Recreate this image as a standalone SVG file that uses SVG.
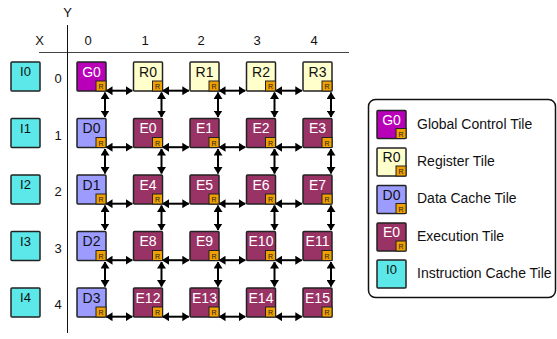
<svg xmlns="http://www.w3.org/2000/svg" width="557" height="339" viewBox="0 0 557 339">
<style>
text{font-family:"Liberation Sans",Arial,sans-serif}
.t{stroke:#222;stroke-width:1.5}
.g{fill:#b800b8}.r{fill:#ffffcc}.d{fill:#9c9cff}.e{fill:#993366}.i{fill:#5ce8e8}
.lbl{font-size:14px;text-anchor:middle}
.lw{fill:#fff}.lk{fill:#111}
.rt{fill:#f0a000;stroke:#222;stroke-width:1}
.rl{font-size:7px;text-anchor:middle;fill:#222}
.ax{font-size:13px;fill:#111;text-anchor:middle}
.lg{font-size:14px;fill:#111}
.ar{stroke:#000;stroke-width:2;fill:none;marker-start:url(#ah);marker-end:url(#ah)}
</style>
<defs>
<marker id="ah" viewBox="0 0 7 9" refX="6.5" refY="4.5" markerWidth="7" markerHeight="9" markerUnits="userSpaceOnUse" orient="auto-start-reverse"><path d="M0,0L7,4.5L0,9z" fill="#000"/></marker>
<g id="router"><rect class="rt" x="0" y="0" width="10" height="10"/><text class="rl" x="5" y="8">R</text></g>
</defs>
<g id="axes">
<line x1="39" y1="52.5" x2="349" y2="52.5" stroke="#444" stroke-width="1"/>
<line x1="67.5" y1="25" x2="67.5" y2="333" stroke="#111" stroke-width="1"/>
<text class="ax" x="67.5" y="17">Y</text>
<text class="ax" x="39.5" y="44.5">X</text>
<text class="ax" x="88" y="44.5">0</text>
<text class="ax" x="145" y="44.5">1</text>
<text class="ax" x="201" y="44.5">2</text>
<text class="ax" x="257" y="44.5">3</text>
<text class="ax" x="314" y="44.5">4</text>
<text class="ax" x="58" y="83">0</text>
<text class="ax" x="58" y="139.5">1</text>
<text class="ax" x="58" y="196">2</text>
<text class="ax" x="58" y="252.5">3</text>
<text class="ax" x="58" y="309">4</text>
</g>
<g id="connectors">
<line class="ar" x1="106" y1="90.7" x2="132.3" y2="90.7"/><line class="ar" x1="162.5" y1="90.7" x2="188.8" y2="90.7"/><line class="ar" x1="219" y1="90.7" x2="245.3" y2="90.7"/><line class="ar" x1="275.5" y1="90.7" x2="301.8" y2="90.7"/>
<line class="ar" x1="106" y1="147.2" x2="132.3" y2="147.2"/><line class="ar" x1="162.5" y1="147.2" x2="188.8" y2="147.2"/><line class="ar" x1="219" y1="147.2" x2="245.3" y2="147.2"/><line class="ar" x1="275.5" y1="147.2" x2="301.8" y2="147.2"/>
<line class="ar" x1="106" y1="203.7" x2="132.3" y2="203.7"/><line class="ar" x1="162.5" y1="203.7" x2="188.8" y2="203.7"/><line class="ar" x1="219" y1="203.7" x2="245.3" y2="203.7"/><line class="ar" x1="275.5" y1="203.7" x2="301.8" y2="203.7"/>
<line class="ar" x1="106" y1="260.2" x2="132.3" y2="260.2"/><line class="ar" x1="162.5" y1="260.2" x2="188.8" y2="260.2"/><line class="ar" x1="219" y1="260.2" x2="245.3" y2="260.2"/><line class="ar" x1="275.5" y1="260.2" x2="301.8" y2="260.2"/>
<line class="ar" x1="106" y1="316.7" x2="132.3" y2="316.7"/><line class="ar" x1="162.5" y1="316.7" x2="188.8" y2="316.7"/><line class="ar" x1="219" y1="316.7" x2="245.3" y2="316.7"/><line class="ar" x1="275.5" y1="316.7" x2="301.8" y2="316.7"/>
<line class="ar" x1="105" y1="92.5" x2="105" y2="117"/><line class="ar" x1="105" y1="149" x2="105" y2="173.5"/><line class="ar" x1="105" y1="205.5" x2="105" y2="230"/><line class="ar" x1="105" y1="262" x2="105" y2="286.5"/>
<line class="ar" x1="161.5" y1="92.5" x2="161.5" y2="117"/><line class="ar" x1="161.5" y1="149" x2="161.5" y2="173.5"/><line class="ar" x1="161.5" y1="205.5" x2="161.5" y2="230"/><line class="ar" x1="161.5" y1="262" x2="161.5" y2="286.5"/>
<line class="ar" x1="218" y1="92.5" x2="218" y2="117"/><line class="ar" x1="218" y1="149" x2="218" y2="173.5"/><line class="ar" x1="218" y1="205.5" x2="218" y2="230"/><line class="ar" x1="218" y1="262" x2="218" y2="286.5"/>
<line class="ar" x1="274.5" y1="92.5" x2="274.5" y2="117"/><line class="ar" x1="274.5" y1="149" x2="274.5" y2="173.5"/><line class="ar" x1="274.5" y1="205.5" x2="274.5" y2="230"/><line class="ar" x1="274.5" y1="262" x2="274.5" y2="286.5"/>
<line class="ar" x1="331" y1="92.5" x2="331" y2="117"/><line class="ar" x1="331" y1="149" x2="331" y2="173.5"/><line class="ar" x1="331" y1="205.5" x2="331" y2="230"/><line class="ar" x1="331" y1="262" x2="331" y2="286.5"/>
</g>
<g id="I0"><rect class="t i" x="11" y="62" width="29" height="29" rx="1"/><text class="lbl lk" x="25.5" y="76" style="font-size:13px">I0</text></g>
<g id="I1"><rect class="t i" x="11" y="118.5" width="29" height="29" rx="1"/><text class="lbl lk" x="25.5" y="132.5" style="font-size:13px">I1</text></g>
<g id="I2"><rect class="t i" x="11" y="175" width="29" height="29" rx="1"/><text class="lbl lk" x="25.5" y="189" style="font-size:13px">I2</text></g>
<g id="I3"><rect class="t i" x="11" y="231.5" width="29" height="29" rx="1"/><text class="lbl lk" x="25.5" y="245.5" style="font-size:13px">I3</text></g>
<g id="I4"><rect class="t i" x="11" y="288" width="29" height="29" rx="1"/><text class="lbl lk" x="25.5" y="302" style="font-size:13px">I4</text></g>

<g id="G0"><rect class="t g" x="77" y="62" width="29" height="29" rx="1"/><text class="lbl lw" x="91.5" y="76.5">G0</text><use href="#router" x="96" y="81"/></g>
<g id="R0"><rect class="t r" x="133.5" y="62" width="29" height="29" rx="1"/><text class="lbl lk" x="148" y="76.5">R0</text><use href="#router" x="152.5" y="81"/></g>
<g id="R1"><rect class="t r" x="190" y="62" width="29" height="29" rx="1"/><text class="lbl lk" x="204.5" y="76.5">R1</text><use href="#router" x="209" y="81"/></g>
<g id="R2"><rect class="t r" x="246.5" y="62" width="29" height="29" rx="1"/><text class="lbl lk" x="261" y="76.5">R2</text><use href="#router" x="265.5" y="81"/></g>
<g id="R3"><rect class="t r" x="303" y="62" width="29" height="29" rx="1"/><text class="lbl lk" x="317.5" y="76.5">R3</text><use href="#router" x="322" y="81"/></g>

<g id="D0"><rect class="t d" x="77" y="118.5" width="29" height="29" rx="1"/><text class="lbl lk" x="91.5" y="133">D0</text><use href="#router" x="96" y="137.5"/></g>
<g id="E0"><rect class="t e" x="133.5" y="118.5" width="29" height="29" rx="1"/><text class="lbl lw" x="148" y="133">E0</text><use href="#router" x="152.5" y="137.5"/></g>
<g id="E1"><rect class="t e" x="190" y="118.5" width="29" height="29" rx="1"/><text class="lbl lw" x="204.5" y="133">E1</text><use href="#router" x="209" y="137.5"/></g>
<g id="E2"><rect class="t e" x="246.5" y="118.5" width="29" height="29" rx="1"/><text class="lbl lw" x="261" y="133">E2</text><use href="#router" x="265.5" y="137.5"/></g>
<g id="E3"><rect class="t e" x="303" y="118.5" width="29" height="29" rx="1"/><text class="lbl lw" x="317.5" y="133">E3</text><use href="#router" x="322" y="137.5"/></g>

<g id="D1"><rect class="t d" x="77" y="175" width="29" height="29" rx="1"/><text class="lbl lk" x="91.5" y="189.5">D1</text><use href="#router" x="96" y="194"/></g>
<g id="E4"><rect class="t e" x="133.5" y="175" width="29" height="29" rx="1"/><text class="lbl lw" x="148" y="189.5">E4</text><use href="#router" x="152.5" y="194"/></g>
<g id="E5"><rect class="t e" x="190" y="175" width="29" height="29" rx="1"/><text class="lbl lw" x="204.5" y="189.5">E5</text><use href="#router" x="209" y="194"/></g>
<g id="E6"><rect class="t e" x="246.5" y="175" width="29" height="29" rx="1"/><text class="lbl lw" x="261" y="189.5">E6</text><use href="#router" x="265.5" y="194"/></g>
<g id="E7"><rect class="t e" x="303" y="175" width="29" height="29" rx="1"/><text class="lbl lw" x="317.5" y="189.5">E7</text><use href="#router" x="322" y="194"/></g>

<g id="D2"><rect class="t d" x="77" y="231.5" width="29" height="29" rx="1"/><text class="lbl lk" x="91.5" y="246">D2</text><use href="#router" x="96" y="250.5"/></g>
<g id="E8"><rect class="t e" x="133.5" y="231.5" width="29" height="29" rx="1"/><text class="lbl lw" x="148" y="246">E8</text><use href="#router" x="152.5" y="250.5"/></g>
<g id="E9"><rect class="t e" x="190" y="231.5" width="29" height="29" rx="1"/><text class="lbl lw" x="204.5" y="246">E9</text><use href="#router" x="209" y="250.5"/></g>
<g id="E10"><rect class="t e" x="246.5" y="231.5" width="29" height="29" rx="1"/><text class="lbl lw" x="261" y="246">E10</text><use href="#router" x="265.5" y="250.5"/></g>
<g id="E11"><rect class="t e" x="303" y="231.5" width="29" height="29" rx="1"/><text class="lbl lw" x="317.5" y="246">E11</text><use href="#router" x="322" y="250.5"/></g>

<g id="D3"><rect class="t d" x="77" y="288" width="29" height="29" rx="1"/><text class="lbl lk" x="91.5" y="302.5">D3</text><use href="#router" x="96" y="307"/></g>
<g id="E12"><rect class="t e" x="133.5" y="288" width="29" height="29" rx="1"/><text class="lbl lw" x="148" y="302.5">E12</text><use href="#router" x="152.5" y="307"/></g>
<g id="E13"><rect class="t e" x="190" y="288" width="29" height="29" rx="1"/><text class="lbl lw" x="204.5" y="302.5">E13</text><use href="#router" x="209" y="307"/></g>
<g id="E14"><rect class="t e" x="246.5" y="288" width="29" height="29" rx="1"/><text class="lbl lw" x="261" y="302.5">E14</text><use href="#router" x="265.5" y="307"/></g>
<g id="E15"><rect class="t e" x="303" y="288" width="29" height="29" rx="1"/><text class="lbl lw" x="317.5" y="302.5">E15</text><use href="#router" x="322" y="307"/></g>

<g id="legend">
<rect x="368.5" y="99.5" width="187" height="198" rx="7" fill="#fff" stroke="#111" stroke-width="1.5"/>
<g id="legend-G"><rect class="t g" x="377" y="110.5" width="29" height="28" rx="1"/><text class="lbl lw" x="391.5" y="124.5">G0</text><use href="#router" x="396" y="128.5"/><text class="lg" x="417" y="128.5">Global Control Tile</text></g>
<g id="legend-R"><rect class="t r" x="377" y="148" width="29" height="28" rx="1"/><text class="lbl lk" x="391.5" y="162">R0</text><use href="#router" x="396" y="166"/><text class="lg" x="417" y="165.5">Register Tile</text></g>
<g id="legend-D"><rect class="t d" x="377" y="185.5" width="29" height="28" rx="1"/><text class="lbl lk" x="391.5" y="199.5">D0</text><use href="#router" x="396" y="203.5"/><text class="lg" x="417" y="203">Data Cache Tile</text></g>
<g id="legend-E"><rect class="t e" x="377" y="223" width="29" height="28" rx="1"/><text class="lbl lw" x="391.5" y="237">E0</text><use href="#router" x="396" y="241"/><text class="lg" x="417" y="240.5">Execution Tile</text></g>
<g id="legend-I"><rect class="t i" x="377" y="260" width="29" height="28" rx="1"/><text class="lbl lk" x="391.5" y="274" style="font-size:13px">I0</text><text class="lg" x="417" y="278">Instruction Cache Tile</text></g>
</g>
</svg>
